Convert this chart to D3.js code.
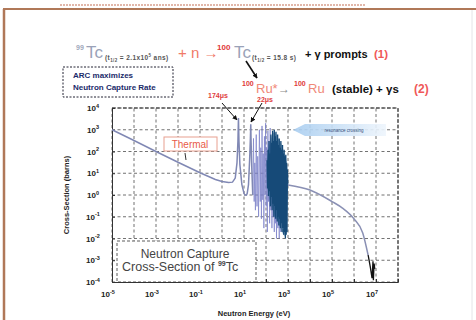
<!DOCTYPE html>
<html>
<head>
<meta charset="utf-8">
<script src="https://cdn.jsdelivr.net/npm/d3@7"></script>
<style>
  body { margin: 0; background: #fff; }
  svg { display: block; font-family: "Liberation Sans", Arial, sans-serif; }
</style>
</head>
<body>
<div id="chart"></div>
<script>
// tick exponents
var xTickExp = [-5, -3, -1, 1, 3, 5, 7];
var yTickExp = [4, 3, 2, 1, 0, -1, -2, -3, -4];
var gridExpX = [-5, -4, -3, -2, -1, 0, 1, 2, 3, 4, 5, 6, 7, 8];
var gridExpY = [-4, -3, -2, -1, 0, 1, 2, 3, 4];

// thermal + first resolved resonances (eV, barns)
var thermalE = [1e-5, 1e-4, 1e-3, 1e-2, 0.1, 0.5, 1, 2, 3, 4, 4.8, 5.3, 5.6, 5.9, 6.5, 8, 10, 11, 12, 13, 14, 16, 18, 19.5, 20.3, 21, 22.5, 25];
var thermalS = [1000, 320, 100, 32, 10.5, 5.2, 4.2, 3.8, 3.9, 6, 30, 300, 3500, 300, 25, 3, 1.2, 1, 1, 1, 1.2, 3, 40, 400, 1800, 300, 20, 1];

// resolved resonance region, light spikes
var resE = [25, 27, 29, 31, 33, 36, 39, 42, 46, 50, 55, 58, 62, 66, 71, 75, 80, 85, 90, 96, 102, 108, 115, 122, 130, 138, 146, 155, 165, 175, 186, 198, 210, 224, 238, 252, 268, 285, 300, 320, 345, 370, 400, 430, 470, 520];
var resS = [1, 400, 0.5, 30, 0.2, 600, 0.3, 60, 0.1, 1000, 0.5, 150, 0.08, 1500, 0.6, 80, 0.03, 500, 1, 2000, 0.3, 150, 0.02, 900, 0.5, 300, 0.05, 1200, 0.2, 200, 0.03, 600, 0.1, 250, 0.02, 400, 0.05, 150, 0.01, 300, 0.03, 100, 0.01, 60, 0.02, 30];

// dense unresolved band (dark)
var bandE = [110, 130, 150, 180, 210, 250, 300, 360, 430, 520, 620, 740, 860, 980];
var bandHi = [40, 120, 250, 500, 700, 800, 600, 400, 300, 200, 120, 70, 40, 15];
var bandLo = [3, 1, 0.5, 0.3, 0.2, 0.1, 0.08, 0.05, 0.03, 0.02, 0.015, 0.012, 0.02, 2];
var denseE = [112, 118, 124, 130, 137, 144, 150, 158, 166, 174, 182, 190, 199, 208, 218, 228, 238, 249, 260, 272, 284, 297, 310, 324, 338, 353, 368, 384, 400, 418, 436, 455, 475, 496, 518, 540, 564, 588, 614, 640, 668, 698, 728, 760, 794, 828, 864, 902, 940, 980];
var denseS = [40, 2, 120, 0.9, 300, 1.5, 80, 0.3, 600, 0.8, 250, 0.2, 900, 0.4, 300, 0.1, 1000, 0.3, 500, 0.08, 800, 0.2, 300, 0.06, 600, 0.1, 200, 0.04, 400, 0.08, 150, 0.03, 300, 0.05, 120, 0.02, 200, 0.03, 80, 0.015, 120, 0.02, 60, 0.01, 70, 0.015, 30, 0.02, 15, 3];

// fast region and high energy tail
var fastE = [1000, 1e4, 1e5, 3e5, 1e6, 2.5e6, 4.4e6];
var fastS = [2.9, 1.7, 0.5, 0.25, 0.08, 0.018, 1.7e-3];
var tailE = [4.4e6, 5.5e6, 6.6e6, 7.3e6, 7.6e6, 8.2e6, 8.8e6];
var tailS = [1.7e-3, 5e-4, 1.5e-4, 9e-4, 1.2e-4, 7e-4, 4e-4];

function zip(a, b) { return a.map(function(v, i) { return [v, b[i]]; }); }

var width = 476, height = 320;
var svg = d3.select("#chart").append("svg")
  .attr("width", width).attr("height", height);

// page frame (cropped slide)
svg.append("rect").attr("x", 0).attr("y", 0).attr("width", width).attr("height", height).attr("fill", "#fff");
svg.append("line").attr("x1", 60).attr("x2", 365).attr("y1", 5).attr("y2", 5)
  .attr("stroke", "#c87860").attr("stroke-width", 1.5).attr("stroke-dasharray", "2,1").attr("opacity", 0.7);
svg.append("line").attr("x1", 3).attr("x2", 476).attr("y1", 9).attr("y2", 9)
  .attr("stroke", "#b07858").attr("stroke-width", 2);
svg.append("line").attr("x1", 4).attr("x2", 4).attr("y1", 9).attr("y2", 320)
  .attr("stroke", "#b07858").attr("stroke-width", 2.5);
svg.append("line").attr("x1", 472).attr("x2", 472).attr("y1", 10).attr("y2", 320)
  .attr("stroke", "#e4e4e8").attr("stroke-width", 1);

var x = d3.scaleLog().domain([1e-5, 1e8]).range([112, 398]);
var y = d3.scaleLog().domain([1e-4, 1e4]).range([282, 108]);

// grid
var grid = svg.append("g").attr("class", "grid");
grid.selectAll("line.gx").data(gridExpX).enter().append("line")
  .attr("x1", function(d) { return x(Math.pow(10, d)); })
  .attr("x2", function(d) { return x(Math.pow(10, d)); })
  .attr("y1", y(1e-4)).attr("y2", y(1e4))
  .attr("stroke", "#222").attr("stroke-width", 0.8).attr("stroke-dasharray", "3,2.5").attr("opacity", 0.8);
grid.selectAll("line.gy").data(gridExpY).enter().append("line")
  .attr("y1", function(d) { return y(Math.pow(10, d)); })
  .attr("y2", function(d) { return y(Math.pow(10, d)); })
  .attr("x1", x(1e-5)).attr("x2", x(1e8))
  .attr("stroke", "#222").attr("stroke-width", 0.8).attr("stroke-dasharray", "3,2.5").attr("opacity", 0.8);

// axes with inward ticks
svg.append("g").attr("transform", "translate(0," + y(1e-4) + ")")
  .call(d3.axisBottom(x).tickValues(gridExpX.map(function(e) { return Math.pow(10, e); })).tickSize(-3).tickFormat(""))
  .call(function(g) { g.select(".domain").attr("stroke", "#333"); g.selectAll(".tick line").attr("stroke", "#333"); });
svg.append("g").attr("transform", "translate(" + x(1e-5) + ",0)")
  .call(d3.axisLeft(y).tickValues(gridExpY.map(function(e) { return Math.pow(10, e); })).tickSize(-3).tickFormat(""))
  .call(function(g) { g.select(".domain").attr("stroke", "#333"); g.selectAll(".tick line").attr("stroke", "#333"); });
svg.append("line").attr("x1", x(1e-5)).attr("x2", x(1e8)).attr("y1", y(1e4)).attr("y2", y(1e4))
  .attr("stroke", "#333").attr("stroke-dasharray", "4,1.5");
svg.append("line").attr("x1", x(1e8)).attr("x2", x(1e8)).attr("y1", y(1e4)).attr("y2", y(1e-4))
  .attr("stroke", "#333").attr("stroke-dasharray", "4,1.5");

// tick labels 10^n
var xl = svg.append("g").selectAll("text").data(xTickExp).enter().append("text")
  .attr("x", function(d) { return x(Math.pow(10, d)) - 4; })
  .attr("y", 297).attr("text-anchor", "middle")
  .attr("font-size", 8).attr("font-weight", "bold").attr("fill", "#222");
xl.append("tspan").text("10");
xl.append("tspan").attr("dy", -3.5).attr("font-size", 5.5).text(function(d) { return d; });

var yl = svg.append("g").selectAll("text").data(yTickExp).enter().append("text")
  .attr("x", 93)
  .attr("y", function(d) { return y(Math.pow(10, d)) + 3; })
  .attr("text-anchor", "middle")
  .attr("font-size", 8).attr("font-weight", "bold").attr("fill", "#222");
yl.append("tspan").text("10");
yl.append("tspan").attr("dy", -3.5).attr("font-size", 5.5).text(function(d) { return d; });

svg.append("text").attr("x", 254).attr("y", 316).attr("text-anchor", "middle")
  .attr("font-size", 7.5).attr("font-weight", "bold").attr("fill", "#222").text("Neutron Energy (eV)");
svg.append("text").attr("transform", "translate(69,195) rotate(-90)").attr("text-anchor", "middle")
  .attr("font-size", 7.5).attr("font-weight", "bold").attr("fill", "#222").text("Cross-Section (barns)");

var line = d3.line().x(function(d) { return x(d[0]); }).y(function(d) { return y(d[1]); });
var area = d3.area().x(function(d) { return x(d[0]); })
  .y0(function(d) { return y(d[2]); }).y1(function(d) { return y(d[1]); });

// resonance spikes
svg.append("path").datum(zip(resE, resS)).attr("d", line)
  .attr("fill", "none").attr("stroke", "#7a80c8").attr("stroke-width", 0.9).attr("opacity", 0.8);
svg.append("path").datum(bandE.map(function(e, i) { return [e, bandHi[i], bandLo[i]]; })).attr("d", area)
  .attr("fill", "#2a6a98").attr("opacity", 0.45);
svg.append("path").datum(zip(denseE, denseS)).attr("d", line)
  .attr("fill", "none").attr("stroke", "#164a78").attr("stroke-width", 1.3);

// main curve
svg.append("path").datum(zip(thermalE, thermalS)).attr("d", line)
  .attr("fill", "none").attr("stroke", "#8088b4").attr("stroke-width", 1.5);
svg.append("path").datum(zip(fastE, fastS)).attr("d", line.curve(d3.curveMonotoneX))
  .attr("fill", "none").attr("stroke", "#8a90b4").attr("stroke-width", 1.5);
svg.append("path").datum(zip(tailE, tailS)).attr("d", line.curve(d3.curveLinear))
  .attr("fill", "none").attr("stroke", "#111").attr("stroke-width", 1.3);

// Thermal label
svg.append("rect").attr("x", 164).attr("y", 137).attr("width", 53).attr("height", 14)
  .attr("fill", "#fff").attr("stroke", "#e8a090").attr("stroke-width", 1);
svg.append("text").attr("x", 190).attr("y", 148).attr("text-anchor", "middle")
  .attr("font-size", 10).attr("fill", "#e85a48").text("Thermal");
svg.append("line").attr("x1", 185).attr("x2", 186).attr("y1", 153).attr("y2", 160)
  .attr("stroke", "#333").attr("stroke-width", 1);

// light blue arrow
var defs = svg.append("defs");
var grad = defs.append("linearGradient").attr("id", "blu").attr("x1", 0).attr("x2", 1);
grad.append("stop").attr("offset", "0%").attr("stop-color", "#a8cdf0");
grad.append("stop").attr("offset", "100%").attr("stop-color", "#eef5fc");
svg.append("path").attr("d", "M293,130 L305,124 L386,124 L386,136 L305,136 Z")
  .attr("fill", "url(#blu)").attr("opacity", 0.9);
svg.append("text").attr("x", 344).attr("y", 132).attr("text-anchor", "middle")
  .attr("font-size", 4.5).attr("fill", "#35507a").text("resonance crossing");

// bottom-left label box
svg.append("rect").attr("x", 117).attr("y", 241).attr("width", 139).attr("height", 41)
  .attr("fill", "#fff").attr("stroke", "#333").attr("stroke-dasharray", "3,2").attr("stroke-width", 0.8);
svg.append("text").attr("x", 185).attr("y", 258).attr("text-anchor", "middle")
  .attr("font-size", 12).attr("fill", "#444").text("Neutron Capture");
var cs = svg.append("text").attr("x", 122).attr("y", 271).attr("font-size", 12.5).attr("fill", "#444");
cs.append("tspan").text("Cross-Section of ");
cs.append("tspan").attr("dy", -5).attr("font-size", 7).attr("font-weight", "bold").text("99");
cs.append("tspan").attr("dy", 5).text("Tc");

// ARC box
svg.append("rect").attr("x", 63).attr("y", 67).attr("width", 110).attr("height", 30)
  .attr("fill", "#fff").attr("stroke", "#223").attr("stroke-dasharray", "2,1.5").attr("stroke-width", 1);
svg.append("text").attr("x", 73).attr("y", 78).attr("font-size", 8).attr("fill", "#1a2a6a").attr("font-weight", "bold").text("ARC maximizes");
svg.append("text").attr("x", 73).attr("y", 90).attr("font-size", 8).attr("fill", "#1a2a6a").attr("font-weight", "bold").text("Neutron Capture Rate");

// reaction (1)
function sub(xx, yy, parts) {
  var t = svg.append("text").attr("x", xx).attr("y", yy).attr("font-size", 6.5).attr("font-weight", "bold")
    .attr("letter-spacing", 0.4).attr("fill", "#555");
  t.append("tspan").text(parts[0]);
  t.append("tspan").attr("dy", 1.5).attr("font-size", 4.5).text("1/2");
  t.append("tspan").attr("dy", -1.5).text(parts[1]);
  return t;
}
svg.append("text").attr("x", 76).attr("y", 50).attr("font-size", 7).attr("font-weight", "bold").attr("fill", "#a0a8bc").text("99");
svg.append("text").attr("x", 86).attr("y", 58).attr("font-size", 17).attr("fill", "#9aa2b8").text("Tc");
var s1 = sub(105, 60, ["(t", " = 2.1x10"]);
s1.append("tspan").attr("dy", -3).attr("font-size", 4.5).text("5");
s1.append("tspan").attr("dy", 3).text(" ans)");
svg.append("text").attr("x", 178).attr("y", 58).attr("font-size", 15).attr("fill", "#f07a68").text("+ n \u2192");
svg.append("text").attr("x", 217).attr("y", 50).attr("font-size", 8).attr("font-weight", "bold").attr("fill", "#e03838").text("100");
svg.append("text").attr("x", 234).attr("y", 58).attr("font-size", 17).attr("fill", "#9aa2b8").text("Tc");
sub(252, 60, ["(t", " = 15.8 s)"]);
svg.append("text").attr("x", 305).attr("y", 58).attr("font-size", 11).attr("font-weight", "bold").attr("fill", "#111").text("+ \u03b3 prompts");
svg.append("text").attr("x", 374).attr("y", 58).attr("font-size", 11.5).attr("font-weight", "bold").attr("fill", "#f05858").text("(1)");

// reaction (2)
svg.append("text").attr("x", 242).attr("y", 86).attr("font-size", 7).attr("font-weight", "bold").attr("fill", "#e03838").text("100");
svg.append("text").attr("x", 256).attr("y", 93).attr("font-size", 13).attr("fill", "#f08878").text("Ru*");
svg.append("text").attr("x", 278).attr("y", 93).attr("font-size", 12).attr("fill", "#888").text("\u2192");
svg.append("text").attr("x", 294).attr("y", 86).attr("font-size", 7).attr("font-weight", "bold").attr("fill", "#e03838").text("100");
svg.append("text").attr("x", 308).attr("y", 93).attr("font-size", 13).attr("fill", "#f08878").text("Ru");
svg.append("text").attr("x", 332).attr("y", 93).attr("font-size", 11.5).attr("font-weight", "bold").attr("fill", "#111").text("(stable) + \u03b3s");
svg.append("text").attr("x", 414).attr("y", 93).attr("font-size", 12).attr("font-weight", "bold").attr("fill", "#f05858").text("(2)");

// lifetimes and arrows
svg.append("text").attr("x", 208).attr("y", 98).attr("font-size", 7).attr("font-weight", "bold").attr("fill", "#e04040").text("174\u03bcs");
svg.append("text").attr("x", 257).attr("y", 102).attr("font-size", 7).attr("font-weight", "bold").attr("fill", "#e04040").text("22\u03bcs");
defs.append("marker").attr("id", "ah").attr("viewBox", "0 0 10 10").attr("refX", 9).attr("refY", 5)
  .attr("markerUnits", "userSpaceOnUse").attr("markerWidth", 5).attr("markerHeight", 5).attr("orient", "auto")
  .append("path").attr("d", "M0,0 L10,5 L0,10 Z").attr("fill", "#111");
[[222, 103, 237, 120], [262, 103, 251, 122], [246, 61, 257, 78]].forEach(function(a, i) {
  svg.append("line").attr("x1", a[0]).attr("y1", a[1]).attr("x2", a[2]).attr("y2", a[3])
    .attr("stroke", "#111").attr("stroke-width", i == 2 ? 1.6 : 1).attr("marker-end", "url(#ah)");
});
</script>
</body>
</html>
